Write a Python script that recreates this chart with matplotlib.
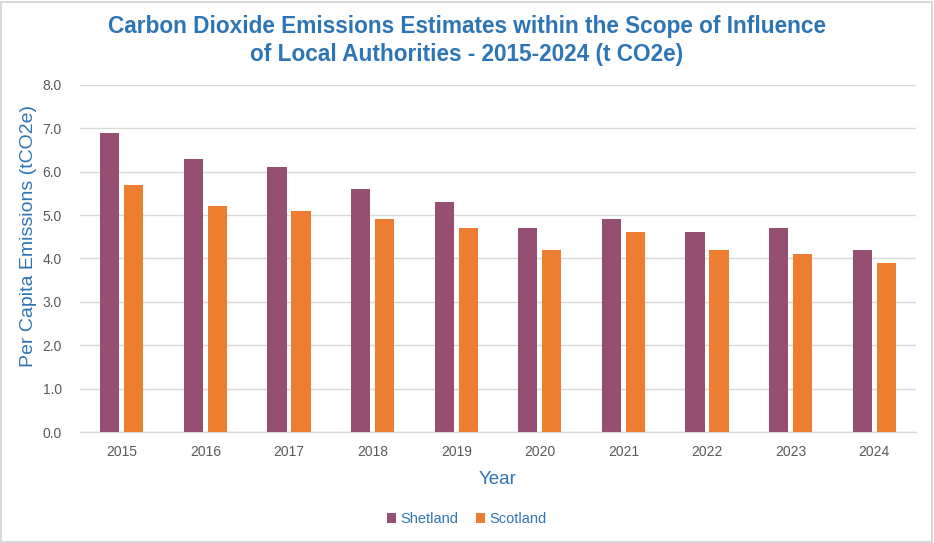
import numpy as np
import matplotlib.pyplot as plt
from matplotlib.patches import Rectangle

# Datos
years = ['2015', '2016', '2017', '2018', '2019', '2020', '2021', '2022', '2023', '2024']
shetland = [6.9, 6.3, 6.1, 5.6, 5.3, 4.7, 4.9, 4.6, 4.7, 4.2]
scotland = [5.7, 5.2, 5.1, 4.9, 4.7, 4.2, 4.6, 4.2, 4.1, 3.9]
y_ticks = [0, 1, 2, 3, 4, 5, 6, 7, 8]

blue = '#2E75B6'
grey_text = '#595959'
grid_col = '#D9D9D9'

plt.rcParams['font.family'] = ['Liberation Sans', 'DejaVu Sans']

fig = plt.figure(figsize=(9.34, 5.43), dpi=100)
ax = fig.add_axes([0.0857, 0.2044, 0.895, 0.6391])

x = np.arange(len(years))
w = 0.23
ax.bar(x - 0.144, shetland, width=w, color='#954F72', label='Shetland', zorder=3)
ax.bar(x + 0.144, scotland, width=w, color='#ED7D31', label='Scotland', zorder=3)

ax.set_xlim(-0.5, len(years) - 0.5)
ax.set_ylim(0, 8)
ax.set_yticks(y_ticks)
ax.set_yticklabels([f'{v:.1f}' for v in y_ticks])
ax.set_xticks(x)
ax.set_xticklabels(years)
ax.tick_params(length=0, labelsize=10, colors=grey_text, pad=9)
ax.tick_params(axis='y', pad=13)
ax.grid(axis='y', color=grid_col, linewidth=1, zorder=0)
for s in ['top', 'right', 'left']:
    ax.spines[s].set_visible(False)
ax.spines['bottom'].set_color(grid_col)
ax.spines['bottom'].set_linewidth(1)

ax.set_xlabel('Year', color=blue, fontsize=13.5, labelpad=9)
ax.set_ylabel('Per Capita Emissions (tCO2e)', color=blue, fontsize=14)
ax.yaxis.set_label_coords(-0.052, 0.565)

fig.text(0.5, 0.972, 'Carbon Dioxide Emissions Estimates within the Scope of Influence\nof Local Authorities - 2015-2024 (t CO2e)',
         ha='center', va='top', fontsize=16.3, fontweight='bold', color=blue, linespacing=1.25)

leg = fig.legend(loc='center', bbox_to_anchor=(0.5, 0.044), ncol=2, frameon=False,
                 fontsize=10.5, handlelength=0.6, handleheight=0.6, handletextpad=0.3,
                 columnspacing=1.2)
for t in leg.get_texts():
    t.set_color(blue)

fig.patches.append(Rectangle((0.001, 0.002), 0.997, 0.995, transform=fig.transFigure,
                             fill=False, edgecolor='#D9D9D9', linewidth=1.5))

fig.savefig('out.png', dpi=100)
